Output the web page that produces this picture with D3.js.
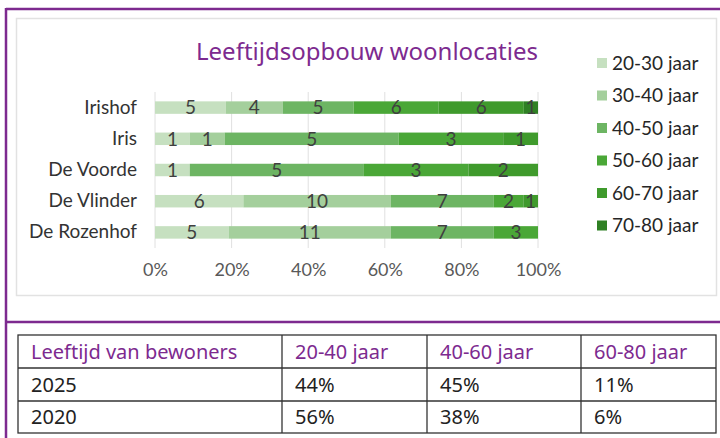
<!DOCTYPE html>
<html>
<head>
<meta charset="utf-8">
<script src="https://cdn.jsdelivr.net/npm/d3@7"></script>
<style>
  body { margin: 0; background: #fff; }
  svg { display: block; }
</style>
</head>
<body>
<div id="chart"></div>
<script>
// data
var locations = ["Irishof", "Iris", "De Voorde", "De Vlinder", "De Rozenhof"];
var ageGroups = ["20-30 jaar", "30-40 jaar", "40-50 jaar", "50-60 jaar", "60-70 jaar", "70-80 jaar"];
var counts = [
    [5, 4, 5, 6, 6, 1],
    [1, 1, 5, 3, 1, 0],
    [1, 0, 5, 3, 2, 0],
    [6, 10, 7, 2, 1, 0],
    [5, 11, 7, 3, 0, 0]
];
var xTicks = [0, 0.2, 0.4, 0.6, 0.8, 1];

var tableHeader = ["Leeftijd van bewoners", "20-40 jaar", "40-60 jaar", "60-80 jaar"];
var tableYears = ["2025", "2020"];
var tableValues = [
    ["44%", "45%", "11%"],
    ["56%", "38%", "6%"]
];

var colors = ["#c6e0c0", "#a4cf9c", "#6db563", "#4aa737", "#3f9a2c", "#2f8024"];
var purple = "#7d2a8f";

var width = 720, height = 438;

var svg = d3.select("#chart")
    .append("svg")
    .attr("width", width)
    .attr("height", height);

// purple frame
svg.append("line").attr("x1", 6).attr("y1", 9).attr("x2", 720).attr("y2", 9)
    .style("stroke", purple).style("stroke-width", 2.5);
svg.append("line").attr("x1", 6).attr("y1", 8).attr("x2", 6).attr("y2", 438)
    .style("stroke", purple).style("stroke-width", 2.5);
svg.append("line").attr("x1", 6).attr("y1", 322).attr("x2", 720).attr("y2", 322)
    .style("stroke", purple).style("stroke-width", 2.5);

// chart area border
svg.append("rect")
    .attr("x", 16.5).attr("y", 18.5)
    .attr("width", 700).attr("height", 277)
    .style("fill", "none").style("stroke", "#e2e2e2").style("stroke-width", 1.5);

// title
svg.append("text")
    .attr("x", 367)
    .attr("y", 60)
    .attr("text-anchor", "middle")
    .style("font-family", "'Noto Sans', sans-serif")
    .style("font-size", "24px")
    .style("fill", purple)
    .text("Leeftijdsopbouw woonlocaties");

// scales
var xScale = d3.scaleLinear().domain([0, 1]).range([155, 538]);
var yScale = d3.scaleBand().domain(locations).range([92, 248]).paddingInner(0.6).paddingOuter(0.3);

// grid
svg.append("g")
    .selectAll("line")
    .data(xTicks)
    .enter()
    .append("line")
    .attr("x1", function (d) { return xScale(d); })
    .attr("x2", function (d) { return xScale(d); })
    .attr("y1", 92)
    .attr("y2", 248)
    .style("stroke", "#e0e0e0")
    .style("stroke-width", 1);

// x axis
var xAxis = d3.axisBottom(xScale)
    .tickValues(xTicks)
    .tickFormat(d3.format(".0%"))
    .tickSize(0)
    .tickPadding(0);

var gx = svg.append("g")
    .attr("transform", "translate(0,263)")
    .call(xAxis);
gx.select(".domain").remove();
gx.selectAll("text")
    .attr("dy", "0.71em")
    .style("font-family", "Lato, sans-serif")
    .style("font-size", "18px")
    .style("fill", "#595959");

// y axis
var yAxis = d3.axisLeft(yScale).tickSize(0).tickPadding(0);
var gy = svg.append("g")
    .attr("transform", "translate(137,0)")
    .call(yAxis);
gy.select(".domain").remove();
gy.selectAll("text")
    .style("font-family", "Lato, sans-serif")
    .style("font-size", "19px")
    .style("fill", "#333");

// stacked bars
var rows = locations.map(function (loc, i) {
    var total = d3.sum(counts[i]);
    var acc = 0;
    return counts[i].map(function (c, j) {
        var seg = { loc: loc, group: j, count: c, x0: acc / total, x1: (acc + c) / total };
        acc += c;
        return seg;
    }).filter(function (s) { return s.count > 0; });
});

var rowG = svg.selectAll("g.row")
    .data(rows)
    .enter()
    .append("g")
    .attr("class", "row");

rowG.selectAll("rect")
    .data(function (d) { return d; })
    .enter()
    .append("rect")
    .attr("x", function (d) { return xScale(d.x0); })
    .attr("width", function (d) { return xScale(d.x1) - xScale(d.x0); })
    .attr("y", function (d) { return yScale(d.loc); })
    .attr("height", yScale.bandwidth())
    .style("fill", function (d) { return colors[d.group]; });

rowG.selectAll("text")
    .data(function (d) { return d; })
    .enter()
    .append("text")
    .attr("x", function (d) { return (xScale(d.x0) + xScale(d.x1)) / 2; })
    .attr("y", function (d) { return yScale(d.loc) + yScale.bandwidth() / 2; })
    .attr("dy", "0.36em")
    .attr("text-anchor", "middle")
    .style("font-family", "Lato, sans-serif")
    .style("font-size", "19px")
    .style("fill", "#404040")
    .text(function (d) { return d.count; });

// legend
var legend = svg.selectAll(".legend")
    .data(ageGroups)
    .enter()
    .append("g")
    .attr("class", "legend")
    .attr("transform", function (d, i) { return "translate(597," + (63 + i * 32.5) + ")"; });

legend.append("rect")
    .attr("x", 0)
    .attr("y", -5)
    .attr("width", 10)
    .attr("height", 10)
    .style("fill", function (d, i) { return colors[i]; });

legend.append("text")
    .attr("x", 15)
    .attr("y", 0)
    .attr("dy", "0.36em")
    .style("font-family", "Lato, sans-serif")
    .style("font-size", "19px")
    .style("fill", "#262626")
    .text(function (d) { return d; });

// table
var colX = [18, 282, 427, 581, 716];
var rowY = [335, 368, 401, 433];

var table = svg.append("g").attr("class", "table");

table.append("rect")
    .attr("x", colX[0]).attr("y", rowY[0])
    .attr("width", colX[4] - colX[0]).attr("height", rowY[3] - rowY[0])
    .style("fill", "none").style("stroke", "#333").style("stroke-width", 1.3);

table.selectAll("line.v")
    .data(colX.slice(1, 4))
    .enter()
    .append("line")
    .attr("class", "v")
    .attr("x1", function (d) { return d; }).attr("x2", function (d) { return d; })
    .attr("y1", rowY[0]).attr("y2", rowY[3])
    .style("stroke", "#333").style("stroke-width", 1.3);

table.selectAll("line.h")
    .data(rowY.slice(1, 3))
    .enter()
    .append("line")
    .attr("class", "h")
    .attr("x1", colX[0]).attr("x2", colX[4])
    .attr("y1", function (d) { return d; }).attr("y2", function (d) { return d; })
    .style("stroke", "#333").style("stroke-width", 1.3);

table.selectAll("text.head")
    .data(tableHeader)
    .enter()
    .append("text")
    .attr("class", "head")
    .attr("x", function (d, i) { return colX[i] + 13; })
    .attr("y", (rowY[0] + rowY[1]) / 2)
    .attr("dy", "0.36em")
    .style("font-family", "'Noto Sans', sans-serif")
    .style("font-size", "20px")
    .style("fill", purple)
    .text(function (d) { return d; });

tableYears.forEach(function (yr, r) {
    var cells = [yr].concat(tableValues[r]);
    table.selectAll("text.r" + r)
        .data(cells)
        .enter()
        .append("text")
        .attr("class", "r" + r)
        .attr("x", function (d, i) { return colX[i] + 13; })
        .attr("y", (rowY[r + 1] + rowY[r + 2]) / 2)
        .attr("dy", "0.36em")
        .style("font-family", "'Noto Sans', sans-serif")
        .style("font-size", "20px")
        .style("fill", "#222")
        .text(function (d) { return d; });
});
</script>
</body>
</html>
